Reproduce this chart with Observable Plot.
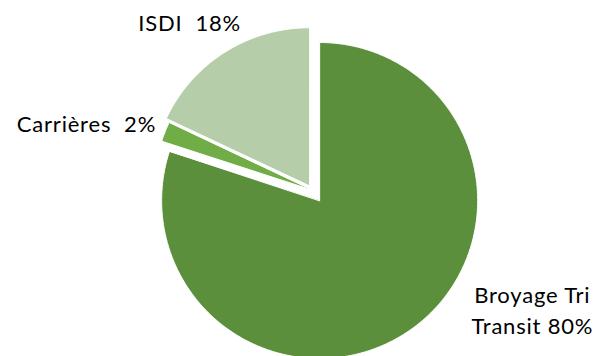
<!DOCTYPE html>
<html>
<head>
<meta charset="utf-8">
<script src="https://cdn.jsdelivr.net/npm/d3@7"></script>
<script src="https://cdn.jsdelivr.net/npm/@observablehq/plot@0.6"></script>
<style>
  html, body { margin: 0; padding: 0; background: #fff; }
  #chart svg { display: block; }
  #chart svg text { letter-spacing: 0.8px; }
</style>
</head>
<body>
<div id="chart"></div>
<script>
// ---- data ----
const categories = ["Broyage Tri Transit", "Carrières", "ISDI"];
const values = [80, 2, 18];
const labelTexts = ["Broyage Tri\nTransit 80%", "Carrières  2%", "ISDI  18%"];

// ---- style / layout ----
const colors = ["#5b8f3b", "#70ad47", "#b5cea9"];
const W = 600, H = 356;
const center = {x: 311.5, y: 189.5};
const radius = 158;
const explode = [13, 0, 5];              // px offset along each slice's bisector
const labelRadius = [263, 233, 201];     // distance of label baseline from pie center
const labelShift = [-20.9, -7.1, -5.1];  // degrees relative to slice bisector

const arcs = d3.pie().sort(null).value(d => d)(values);

const slicePoints = [];
const labels = [];
arcs.forEach((a, i) => {
  const mid = (a.startAngle + a.endAngle) / 2;
  const cx = center.x + explode[i] * Math.sin(mid);
  const cy = center.y - explode[i] * Math.cos(mid);
  slicePoints.push({cat: categories[i], x: cx, y: cy});
  const n = Math.max(4, Math.ceil((a.endAngle - a.startAngle) * 120));
  for (let k = 0; k <= n; k++) {
    const t = a.startAngle + (a.endAngle - a.startAngle) * k / n;
    slicePoints.push({cat: categories[i], x: cx + radius * Math.sin(t), y: cy - radius * Math.cos(t)});
  }
  const la = mid + labelShift[i] * Math.PI / 180;
  labels.push({
    text: labelTexts[i],
    x: center.x + labelRadius[i] * Math.sin(la),
    y: center.y - labelRadius[i] * Math.cos(la)
  });
});

const chart = Plot.plot({
  width: W,
  height: H,
  margin: 0,
  style: {fontFamily: "Lato, 'Open Sans', sans-serif", background: "#fff"},
  x: {domain: [0, W], range: [0, W], axis: null},
  y: {domain: [0, H], range: [0, H], axis: null},
  color: {domain: categories, range: colors},
  marks: [
    Plot.line(slicePoints, {
      x: "x", y: "y", z: "cat", fill: "cat",
      stroke: "white", strokeWidth: 1, curve: "linear-closed"
    }),
    Plot.text(labels, {
      x: "x", y: "y", text: "text",
      textAnchor: "middle", lineAnchor: "bottom",
      fontSize: 22, lineHeight: 1.41, fill: "#000",
      fontFamily: "Lato"
    })
  ]
});
document.getElementById("chart").appendChild(chart);
</script>
</body>
</html>
